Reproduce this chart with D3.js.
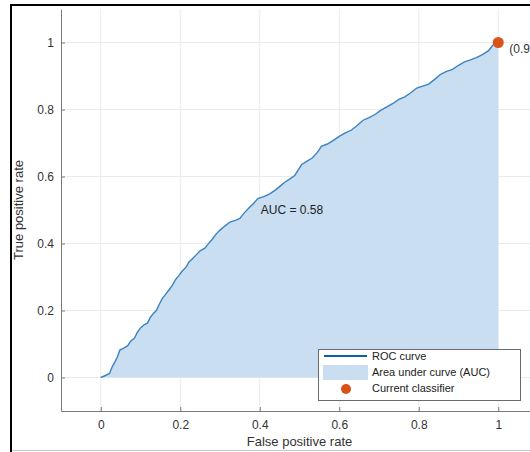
<!DOCTYPE html>
<html><head><meta charset="utf-8">
<script src="https://cdn.jsdelivr.net/npm/d3@7"></script>
<style>body{margin:0;background:#fff;} svg{display:block;font-family:"Liberation Sans",Arial,sans-serif;}</style>
</head><body>
<script>
// Data
const fpr = [0,0.012,0.022,0.028,0.035,0.042,0.048,0.058,0.068,0.075,0.085,0.092,0.100,0.110,0.118,0.125,0.133,0.140,0.147,0.155,0.163,0.172,0.180,0.188,0.197,0.205,0.215,0.222,0.232,0.240,0.250,0.262,0.270,0.280,0.290,0.300,0.312,0.325,0.340,0.350,0.360,0.372,0.385,0.395,0.410,0.425,0.440,0.452,0.462,0.475,0.488,0.497,0.505,0.518,0.532,0.545,0.555,0.570,0.585,0.600,0.615,0.630,0.645,0.660,0.675,0.690,0.705,0.720,0.735,0.750,0.765,0.780,0.795,0.810,0.825,0.840,0.855,0.870,0.885,0.900,0.915,0.930,0.945,0.960,0.975,0.982,0.986,0.992,1.0];
const tpr = [0,0.006,0.012,0.030,0.045,0.062,0.082,0.088,0.095,0.108,0.118,0.135,0.148,0.158,0.163,0.180,0.192,0.200,0.218,0.236,0.248,0.262,0.275,0.292,0.305,0.318,0.330,0.345,0.356,0.366,0.378,0.386,0.398,0.412,0.428,0.440,0.452,0.464,0.470,0.475,0.490,0.505,0.520,0.534,0.540,0.548,0.560,0.572,0.582,0.592,0.603,0.620,0.635,0.645,0.655,0.672,0.690,0.697,0.708,0.720,0.730,0.738,0.752,0.768,0.776,0.785,0.798,0.808,0.818,0.830,0.838,0.850,0.864,0.870,0.876,0.890,0.905,0.914,0.920,0.932,0.942,0.948,0.955,0.964,0.975,0.985,0.992,0.996,1.0];
const classifier = [1.0, 1.0];
const classifierLabel = "(0.99, 1.00)";
const aucLabel = "AUC = 0.58";
const tickValues = [0,0.2,0.4,0.6,0.8,1];
const legendLabels = ["ROC curve","Area under curve (AUC)","Current classifier"];
const xLabel = "False positive rate", yLabel = "True positive rate";

const W = 530, H = 452;
const svg = d3.select("body").append("svg").attr("width", W).attr("height", H);

// figure frame (cropped screenshot border)
svg.append("line").attr("x1",11).attr("x2",11).attr("y1",4).attr("y2",H).attr("stroke","#000").attr("stroke-width",2);
svg.append("line").attr("x1",10).attr("x2",W).attr("y1",5).attr("y2",5).attr("stroke","#000").attr("stroke-width",2);
svg.append("line").attr("x1",12).attr("x2",W).attr("y1",450.5).attr("y2",450.5).attr("stroke","#c8c8c8").attr("stroke-width",1);

const x = d3.scaleLinear().domain([-0.1,1.1]).range([61,538]);
const y = d3.scaleLinear().domain([-0.1,1.1]).range([411,9]);

const pts = fpr.map((f,i)=>[f,tpr[i]]);

// grid
const g = svg.append("g");
g.selectAll(".gx").data(tickValues).join("line")
  .attr("x1",d=>x(d)).attr("x2",d=>x(d)).attr("y1",y(-0.1)).attr("y2",y(1.1))
  .attr("stroke","#ebebeb").attr("stroke-width",1);
g.selectAll(".gy").data(tickValues).join("line")
  .attr("x1",x(-0.1)).attr("x2",x(1.1)).attr("y1",d=>y(d)).attr("y2",d=>y(d))
  .attr("stroke","#ebebeb").attr("stroke-width",1);

// area
const area = d3.area().x(d=>x(d[0])).y0(y(0)).y1(d=>y(d[1]));
svg.append("path").datum(pts).attr("d",area).attr("fill","#c9def0");
// line
const line = d3.line().x(d=>x(d[0])).y(d=>y(d[1]));
svg.append("path").datum(pts).attr("d",line).attr("fill","none").attr("stroke","#3a82c0").attr("stroke-width",1.4);

// axes
const xAxis = d3.axisBottom(x).tickValues(tickValues).tickSizeInner(-4).tickSizeOuter(0).tickPadding(9).tickFormat(d3.format("~g"));
const yAxis = d3.axisLeft(y).tickValues(tickValues).tickSizeInner(-4).tickSizeOuter(0).tickPadding(7).tickFormat(d3.format("~g"));
const gx = svg.append("g").attr("transform",`translate(0,${y(-0.1)})`).call(xAxis);
const gy = svg.append("g").attr("transform",`translate(${x(-0.1)},0)`).call(yAxis);
[gx,gy].forEach(a=>{
  a.select(".domain").attr("stroke","#7a7a7a");
  a.selectAll(".tick line").attr("stroke","#7a7a7a");
  a.selectAll(".tick text").attr("fill","#333").attr("font-size",12).attr("font-family","Liberation Sans, Arial, sans-serif");
});

// labels
svg.append("text").attr("x",x(0.5)).attr("y",446).attr("text-anchor","middle").attr("font-size",13).attr("fill","#333").text(xLabel);
svg.append("text").attr("transform",`translate(23,${y(0.5)}) rotate(-90)`).attr("text-anchor","middle").attr("font-size",13).attr("fill","#333").text(yLabel);

// annotation
svg.append("text").attr("x",x(0.4)+1).attr("y",y(0.5)+4).attr("font-size",12).attr("fill","#222").text(aucLabel);

// classifier point
svg.append("circle").attr("cx",x(classifier[0])).attr("cy",y(classifier[1])).attr("r",5.5).attr("fill","#d95319");
svg.append("text").attr("x",x(classifier[0])+11).attr("y",y(classifier[1])+10).attr("font-size",12).attr("fill","#333").text(classifierLabel);

// legend
const lg = svg.append("g");
lg.append("rect").attr("x",318.5).attr("y",349.5).attr("width",202).attr("height",51).attr("fill","#fff").attr("stroke","#6a6a6a").attr("stroke-width",1);
lg.append("line").attr("x1",324).attr("x2",367).attr("y1",356).attr("y2",356).attr("stroke","#0b5fa5").attr("stroke-width",2.2);
lg.append("rect").attr("x",323).attr("y",365).attr("width",45).attr("height",15).attr("fill","#c9def0");
lg.append("circle").attr("cx",346).attr("cy",389).attr("r",5).attr("fill","#d95319");
lg.selectAll("text.lt").data(legendLabels).join("text")
  .attr("x",372).attr("y",(d,i)=>360+i*16).attr("font-size",11).attr("fill","#222").text(d=>d);
</script>
</body></html>
